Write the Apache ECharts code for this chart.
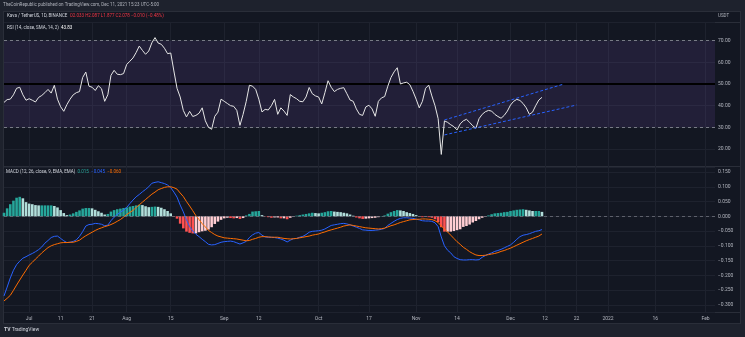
<!DOCTYPE html>
<html>
<head>
<meta charset="utf-8">
<script src="https://cdn.jsdelivr.net/npm/echarts@6/dist/echarts.min.js"></script>
<style>
html,body{margin:0;padding:0;background:#1e222d;width:745px;height:337px;overflow:hidden}
#frame{position:absolute;left:3px;top:11px;width:736px;height:311px;background:#131722;border:1px solid #2a2e39}
.sep{position:absolute;left:4px;width:736px;height:1px;background:#2a2e39}
#chart{position:absolute;left:0;top:0;width:745px;height:337px}
</style>
</head>
<body>
<div id="frame"></div>
<div class="sep" style="top:22px"></div>
<div class="sep" style="top:166px"></div>
<div class="sep" style="top:312px"></div>
<div id="chart"></div>
<script>
// ---- data ----
const startDate = '2021-06-23';
const dayCount = 227; // through 2022-02-04 (axis space)

const tickDates = ['2021-07-01','2021-07-11','2021-07-21','2021-08-01','2021-08-15','2021-09-01','2021-09-12','2021-10-01','2021-10-17','2021-11-01','2021-11-14','2021-12-01','2021-12-12','2021-12-22','2022-01-01','2022-01-16','2022-02-01'];
const tickTexts = ['Jul','11','21','Aug','15','Sep','12','Oct','17','Nov','14','Dec','12','22','2022','16','Feb'];

const rsi = [
 41.5, 42.8, 43, 45, 48, 48.5, 45, 42.5, 43.2, 42.5,
 41.7, 43.8, 44.7, 46, 47.5, 45.8, 49.4, 43, 39.5, 37.4,
 40.5, 43, 45, 46, 46.5, 53, 55.5, 49, 48.5, 47,
 49.2, 47.8, 42, 45, 54, 56.3, 54.5, 54.3, 54.8, 59,
 60.5, 62, 64.5, 67.5, 65.5, 63.7, 65.2, 69, 71.4, 68.9,
 68.3, 66.5, 64, 64.3, 56, 48, 44, 37.8, 34.8, 37.4,
 35, 35.5, 36.5, 39, 33, 30, 29.1, 35.1, 37, 43,
 42, 41, 40, 39.7, 37.8, 30.9, 36, 42, 49.4, 49,
 47.5, 43, 37.1, 38.3, 38, 40, 42.9, 36, 39, 37.5,
 35.5, 45.1, 44, 43.2, 42, 41.8, 44, 48.4, 45.5, 44.5,
 44, 40.8, 46, 51.5, 48.5, 46.5, 47.5, 48, 48.3, 45.5,
 42.6, 42, 38.5, 36, 35.5, 39.4, 40.2, 38.5, 35.1, 42,
 43.6, 44.2, 49, 53, 55.6, 57.5, 50, 50.5, 50.8, 49.7,
 46.6, 43, 39, 42, 48, 49.5, 44.5, 40, 34, 17.5,
 33, 32.3, 31.2, 30.3, 28.8, 31.6, 33, 33.7, 32.3, 30.7,
 29.6, 34, 36, 37.2, 37.8, 37.5, 36, 35, 34.2, 35.5,
 37.5, 40.3, 42, 42.9, 42.4, 41, 39, 36, 37, 40,
 42.6, 43.83
];

const macd = [
 -0.27, -0.24, -0.209, -0.183, -0.164, -0.152, -0.142, -0.137, -0.131, -0.126,
 -0.12, -0.113, -0.104, -0.091, -0.082, -0.072, -0.068, -0.067, -0.075, -0.083,
 -0.089, -0.088, -0.085, -0.08, -0.068, -0.052, -0.033, -0.028, -0.027, -0.024,
 -0.025, -0.027, -0.032, -0.03, -0.015, -0.003, 0.006, 0.014, 0.021, 0.03,
 0.043, 0.055, 0.066, 0.074, 0.083, 0.091, 0.1, 0.112, 0.115, 0.117,
 0.114, 0.111, 0.106, 0.097, 0.082, 0.065, 0.038, 0.015, -0.012, -0.035,
 -0.05, -0.061, -0.069, -0.078, -0.086, -0.095, -0.097, -0.096, -0.092, -0.088,
 -0.086, -0.085, -0.084, -0.086, -0.09, -0.094, -0.09, -0.085, -0.072, -0.063,
 -0.057, -0.055, -0.064, -0.07, -0.071, -0.071, -0.072, -0.074, -0.077, -0.081,
 -0.087, -0.081, -0.076, -0.075, -0.071, -0.068, -0.062, -0.054, -0.051, -0.05,
 -0.049, -0.047, -0.043, -0.037, -0.031, -0.029, -0.027, -0.025, -0.024, -0.026,
 -0.029, -0.033, -0.037, -0.041, -0.046, -0.047, -0.048, -0.048, -0.047, -0.046,
 -0.044, -0.041, -0.031, -0.024, -0.017, -0.011, -0.007, -0.005, -0.005, -0.006,
 -0.007, -0.01, -0.012, -0.015, -0.016, -0.016, -0.017, -0.022, -0.035, -0.07,
 -0.1, -0.115, -0.124, -0.137, -0.143, -0.147, -0.148, -0.148, -0.147, -0.147,
 -0.148, -0.147, -0.139, -0.133, -0.128, -0.124, -0.119, -0.116, -0.112, -0.107,
 -0.102, -0.097, -0.088, -0.078, -0.069, -0.064, -0.062, -0.059, -0.055, -0.051,
 -0.049, -0.045
];

const signal = [
 -0.287, -0.278, -0.268, -0.251, -0.233, -0.216, -0.199, -0.183, -0.166, -0.156,
 -0.145, -0.135, -0.124, -0.115, -0.106, -0.1, -0.096, -0.093, -0.09, -0.089,
 -0.089, -0.088, -0.088, -0.085, -0.081, -0.073, -0.066, -0.06, -0.054, -0.048,
 -0.043, -0.039, -0.035, -0.032, -0.028, -0.023, -0.017, -0.011, -0.003, 0.006,
 0.013, 0.02, 0.03, 0.039, 0.048, 0.057, 0.066, 0.075, 0.082, 0.09,
 0.094, 0.098, 0.1, 0.1, 0.097, 0.092, 0.079, 0.067, 0.05, 0.035,
 0.019, 0.002, -0.011, -0.025, -0.036, -0.048, -0.055, -0.062, -0.067, -0.07,
 -0.073, -0.074, -0.075, -0.076, -0.077, -0.079, -0.081, -0.083, -0.082, -0.078,
 -0.075, -0.071, -0.069, -0.069, -0.07, -0.071, -0.071, -0.071, -0.073, -0.075,
 -0.076, -0.077, -0.076, -0.075, -0.073, -0.071, -0.069, -0.067, -0.064, -0.062,
 -0.06, -0.056, -0.053, -0.049, -0.046, -0.043, -0.04, -0.037, -0.033, -0.031,
 -0.029, -0.031, -0.033, -0.035, -0.037, -0.039, -0.04, -0.041, -0.042, -0.043,
 -0.042, -0.04, -0.036, -0.032, -0.029, -0.025, -0.021, -0.018, -0.015, -0.012,
 -0.011, -0.01, -0.01, -0.009, -0.009, -0.01, -0.011, -0.015, -0.021, -0.033,
 -0.043, -0.053, -0.064, -0.075, -0.086, -0.095, -0.105, -0.112, -0.12, -0.126,
 -0.131, -0.133, -0.133, -0.132, -0.13, -0.128, -0.126, -0.123, -0.119, -0.116,
 -0.112, -0.108, -0.103, -0.098, -0.093, -0.088, -0.083, -0.079, -0.075, -0.071,
 -0.067, -0.06
];

const hist = [
 0.012, 0.027, 0.041, 0.053, 0.063, 0.066, 0.061, 0.048, 0.043, 0.041,
 0.038, 0.037, 0.037, 0.037, 0.037, 0.037, 0.035, 0.03, 0.021, 0.011,
 0.004, 0.006, 0.01, 0.015, 0.02, 0.026, 0.028, 0.028, 0.027, 0.022,
 0.017, 0.012, 0.006, 0.008, 0.016, 0.021, 0.024, 0.026, 0.028, 0.03,
 0.033, 0.035, 0.037, 0.039, 0.038, 0.034, 0.031, 0.032, 0.033, 0.032,
 0.029, 0.024, 0.018, 0.01, -0.001, -0.008, -0.025, -0.041, -0.052, -0.056,
 -0.058, -0.058, -0.054, -0.051, -0.049, -0.045, -0.037, -0.026, -0.018, -0.012,
 -0.007, -0.005, -0.006, -0.007, -0.006, -0.009, -0.006, 0.003, 0.008, 0.016,
 0.017, 0.018, 0.004, -0.001, -0.003, -0.005, -0.004, -0.004, -0.007, -0.007,
 -0.01, -0.005, -0.001, 0.002, 0.004, 0.006, 0.008, 0.01, 0.012, 0.011,
 0.01, 0.012, 0.014, 0.017, 0.018, 0.016, 0.015, 0.014, 0.012, 0.01,
 0.006, 0.002, -0.004, -0.007, -0.009, -0.008, -0.007, -0.006, -0.005, -0.003,
 0.001, 0.003, 0.009, 0.014, 0.018, 0.021, 0.02, 0.018, 0.014, 0.011,
 0.008, 0.004, -0.001, -0.003, -0.001, -0.003, -0.005, -0.01, -0.02, -0.037,
 -0.052, -0.052, -0.052, -0.05, -0.047, -0.044, -0.036, -0.033, -0.028, -0.021,
 -0.016, -0.01, -0.005, -0.001, 0.003, 0.007, 0.01, 0.011, 0.012, 0.014,
 0.015, 0.018, 0.02, 0.022, 0.023, 0.024, 0.022, 0.02, 0.018, 0.018,
 0.018, 0.015
];

const channelUpper = [['2021-11-10', 33.4], ['2021-12-18', 50.0]];
const channelLower = [['2021-11-10', 26.5], ['2021-12-22', 40.3]];

const publisherText = 'TheCoinRepublic published on TradingView.com, Dec 11, 2021 15:23 UTC-5:00';
const symbolText = 'Kava / TetherUS, 1D, BINANCE';
const ohlcText = 'O2.033 H2.087 L1.877 C2.078 \u22120.010 (\u22120.48%)';
const rsiTitle = 'RSI (14, close, SMA, 14, 2)';
const rsiLast = '43.83';
const macdTitle = 'MACD (12, 26, close, 9, EMA, EMA)';
const macdLast = ['0.015', '\u22120.045', '\u22120.060'];

// ---- build categories ----
const dates = [];
{
  const d0 = new Date(startDate + 'T00:00:00Z');
  for (let i = 0; i < dayCount; i++) {
    const d = new Date(d0.getTime() + i * 86400000);
    dates.push(d.toISOString().slice(0, 10));
  }
}

const FONT = 'Roboto, "Noto Sans", sans-serif';
const txt = '#b2b5be';
const gridLine = '#1e222e';
const FS = 4.5, LH = 6;
const isTick = (i, v) => tickDates.indexOf(v) >= 0;
const minus = s => s.replace('-', '\u2212');

const histColor = p => {
  const i = p.dataIndex, v = hist[i], prev = i > 0 ? hist[i - 1] : v;
  if (v >= 0) return v >= prev ? '#26a69a' : '#b2dfdb';
  return v < prev ? '#ff5252' : '#ffcdd2';
};

const span = (color, extra) => Object.assign({color: color, fontSize: FS, lineHeight: LH, fontFamily: FONT}, extra || {});
const baseText = extra => Object.assign({color: txt, fontSize: FS, lineHeight: LH, fontWeight: 'normal', fontFamily: FONT}, extra || {});

const chart = echarts.init(document.getElementById('chart'), null, {renderer: 'canvas'});
chart.setOption({
  backgroundColor: 'transparent',
  animation: false,
  textStyle: {fontFamily: FONT},
  title: [
    {text: publisherText, left: 3, top: 2, padding: 0, textStyle: baseText()},
    {text: '{a|' + symbolText + '}{s|  }{b|' + ohlcText + '}', left: 7, top: 13, padding: 0,
     textStyle: baseText({rich: {a: span('#d1d4dc'), s: span('#d1d4dc'), b: span('#f23645')}})},
    {text: 'USDT', left: 718, top: 12.5, padding: 0, textStyle: baseText()},
    {text: '{a|' + rsiTitle + '}{s|  }{b|' + rsiLast + '}', left: 7, top: 25, padding: 0,
     textStyle: baseText({rich: {a: span('#d1d4dc'), s: span('#d1d4dc'), b: span('#ffffff')}})},
    {text: '{a|' + macdTitle + '}{s|  }{t|' + macdLast[0] + '}{s|  }{b|' + macdLast[1] + '}{s|  }{o|' + macdLast[2] + '}', left: 6, top: 169, padding: 0,
     textStyle: baseText({rich: {a: span('#d1d4dc'), s: span('#d1d4dc'), t: span('#26a69a'), b: span('#2962ff'), o: span('#ff6d00')}})},
    {text: '{a|TV}{s| }{b|TradingView}', left: 4, top: 327, padding: 0,
     textStyle: baseText({fontSize: 5, lineHeight: 6, rich: {a: span('#d1d4dc', {fontSize: 5, fontWeight: 'bold'}), s: span('#d1d4dc', {fontSize: 5}), b: span('#d1d4dc', {fontSize: 5})}})}
  ],
  grid: [
    {left: 4, right: 30, top: 22, height: 145},
    {left: 4, right: 30, top: 167, height: 145}
  ],
  xAxis: [
    {type: 'category', gridIndex: 0, data: dates, boundaryGap: false,
     axisLine: {show: false}, axisTick: {show: false}, axisLabel: {show: false},
     splitLine: {show: true, interval: isTick, lineStyle: {color: gridLine, width: 1}}},
    {type: 'category', gridIndex: 1, data: dates, boundaryGap: false,
     axisLine: {show: false}, axisTick: {show: false},
     axisLabel: {show: true, interval: isTick, formatter: v => tickTexts[tickDates.indexOf(v)],
       color: txt, fontSize: 5, margin: 4, fontFamily: FONT},
     splitLine: {show: true, interval: isTick, lineStyle: {color: gridLine, width: 1}}}
  ],
  yAxis: [
    {type: 'value', gridIndex: 0, position: 'right', min: 11.7, max: 78.6, splitNumber: 6,
     axisLine: {show: false}, axisTick: {show: false},
     axisLabel: {color: txt, fontSize: 5, margin: 3, showMinLabel: false, showMaxLabel: false,
       formatter: v => v.toFixed(2), fontFamily: FONT},
     splitLine: {show: true, lineStyle: {color: gridLine, width: 1}}},
    {type: 'value', gridIndex: 1, position: 'right', min: -0.3244, max: 0.1671, splitNumber: 10,
     axisLine: {show: false}, axisTick: {show: false},
     axisLabel: {color: txt, fontSize: 5, margin: 3, showMinLabel: false, showMaxLabel: false,
       formatter: v => minus((Math.abs(v) < 1e-9 ? 0 : v).toFixed(3)), fontFamily: FONT},
     splitLine: {show: true, lineStyle: {color: gridLine, width: 1}}}
  ],
  series: [
    {type: 'line', name: 'RSI', xAxisIndex: 0, yAxisIndex: 0, data: rsi, symbol: 'none',
     lineStyle: {color: '#e6e6e6', width: 1}, z: 5,
     markArea: {silent: true, itemStyle: {color: 'rgba(126,87,194,0.14)'},
       data: [[{yAxis: 30}, {yAxis: 70}]]},
     markLine: {silent: true, symbol: 'none', label: {show: false},
       data: [
         {yAxis: 70, lineStyle: {color: '#787b86', type: [3, 3], width: 1}},
         {yAxis: 30, lineStyle: {color: '#787b86', type: [3, 3], width: 1}},
         {yAxis: 50, lineStyle: {color: '#000000', type: 'solid', width: 2}}
       ]}},
    {type: 'line', name: 'Channel upper', xAxisIndex: 0, yAxisIndex: 0, data: channelUpper, symbol: 'none',
     lineStyle: {color: '#2962ff', width: 1, type: [3, 2]}, z: 6},
    {type: 'line', name: 'Channel lower', xAxisIndex: 0, yAxisIndex: 0, data: channelLower, symbol: 'none',
     lineStyle: {color: '#2962ff', width: 1, type: [3, 2]}, z: 6},
    {type: 'bar', name: 'Histogram', xAxisIndex: 1, yAxisIndex: 1, data: hist, barCategoryGap: '18%',
     itemStyle: {color: histColor}, z: 2,
     markLine: {silent: true, symbol: 'none', label: {show: false},
       data: [{yAxis: 0, lineStyle: {color: '#787b86', type: [3, 3], width: 1, opacity: 0.7}}]}},
    {type: 'line', name: 'MACD', xAxisIndex: 1, yAxisIndex: 1, data: macd, symbol: 'none',
     lineStyle: {color: '#2962ff', width: 1}, z: 4},
    {type: 'line', name: 'Signal', xAxisIndex: 1, yAxisIndex: 1, data: signal, symbol: 'none',
     lineStyle: {color: '#ff6d00', width: 1}, z: 4}
  ]
});
</script>
</body>
</html>
